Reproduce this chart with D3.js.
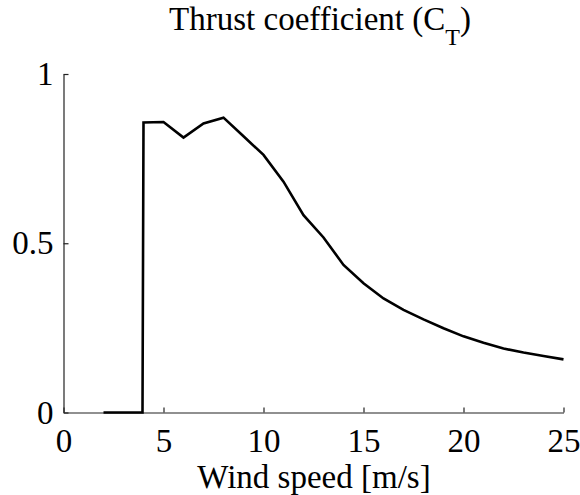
<!DOCTYPE html>
<html><head><meta charset="utf-8">
<script src="https://cdn.jsdelivr.net/npm/d3@7"></script>
<style>body{margin:0;background:#fff}svg{display:block}</style>
</head><body>
<svg id="c" width="580" height="495"></svg>
<script>
const windSpeed = [2, 3, 3.95, 4, 5, 6, 7, 8, 9, 10, 11, 12, 13, 14, 15, 16, 17, 18, 19, 20, 21, 22, 23, 24, 25];
const thrustCoef = [0, 0, 0, 0.857, 0.858, 0.812, 0.854, 0.871, 0.816, 0.761, 0.682, 0.583, 0.517, 0.436, 0.382, 0.337, 0.303, 0.275, 0.249, 0.225, 0.206, 0.189, 0.177, 0.167, 0.157];
const xTicks = [0, 5, 10, 15, 20, 25];
const yTicks = [0, 0.5, 1];

const FONT = "'Liberation Serif', 'Times New Roman', Tinos, 'DejaVu Serif', serif";
const FS = 33;
const svg = d3.select("#c");
const x = d3.scaleLinear().domain([0, 25]).range([63.5, 563.5]);
const y = d3.scaleLinear().domain([0, 1]).range([412.5, 74]);

const xAxis = svg.append("g").attr("transform", `translate(0,${y(0)})`)
  .call(d3.axisBottom(x).tickValues(xTicks).tickSizeInner(-5).tickSizeOuter(0).tickPadding(16).tickFormat(d3.format("d")));
const yAxis = svg.append("g").attr("transform", `translate(${x(0)},0)`)
  .call(d3.axisLeft(y).tickValues(yTicks).tickSizeInner(-5).tickSizeOuter(0).tickPadding(10).tickFormat(d => d === 0.5 ? "0.5" : d3.format("d")(d)));
[xAxis, yAxis].forEach(g => {
  g.attr("font-family", FONT).attr("font-size", FS);
  g.selectAll("path,line").attr("stroke", "#222").attr("stroke-width", 1.2);
  g.selectAll("text").attr("fill", "#000");
});
xAxis.selectAll("text").attr("dy", "0.71em");

svg.append("path")
  .datum(windSpeed.map((w, i) => [w, thrustCoef[i]]))
  .attr("fill", "none").attr("stroke", "#000").attr("stroke-width", 2.6).attr("stroke-linejoin", "miter")
  .attr("d", d3.line().x(d => x(d[0])).y(d => y(d[1])));

svg.append("text").attr("x", 314).attr("y", 488).attr("text-anchor", "middle")
  .attr("font-family", FONT).attr("font-size", FS).text("Wind speed [m/s]");

const t = svg.append("text").attr("x", 320).attr("y", 30).attr("text-anchor", "middle")
  .attr("font-family", FONT).attr("font-size", FS);
t.append("tspan").text("Thrust coefficient (C");
t.append("tspan").attr("dy", 15).attr("font-size", 24).text("T");
t.append("tspan").attr("dy", -15).text(")");
</script>
</body></html>
